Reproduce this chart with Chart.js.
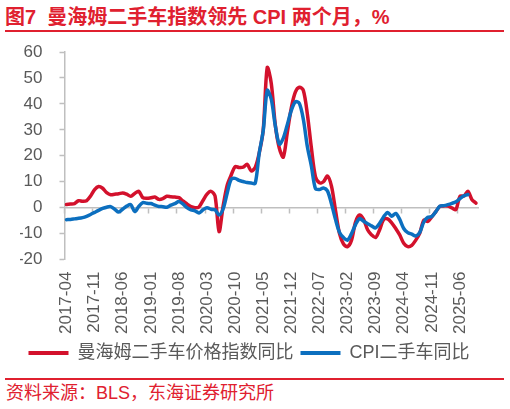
<!DOCTYPE html>
<html>
<head>
<meta charset="utf-8">
<script src="https://cdn.jsdelivr.net/npm/chart.js@4.4.1/dist/chart.umd.min.js"></script>
<style>
  html, body { margin: 0; padding: 0; background: #fff; }
  body { width: 510px; height: 409px; position: relative; overflow: hidden;
         font-family: "Liberation Sans", Arial, "Noto Sans CJK SC", sans-serif; }
  #title { position: absolute; left: 5px; top: 4px; font-size: 20px; font-weight: bold;
           color: #E0202F; white-space: pre; line-height: 26px; }
  #topline { position: absolute; left: 5px; top: 30px; width: 499px; height: 2px; background: #E0202F; }
  #botline { position: absolute; left: 5px; top: 378px; width: 499px; height: 1.5px; background: #E0202F; }
  #source { position: absolute; left: 6px; top: 381px; font-size: 18px; color: #E0202F;
            line-height: 24px; white-space: pre; }
  #wrap { position: absolute; left: 0; top: 0; width: 510px; height: 374px; }
</style>
</head>
<body>
<div id="title">图7  曼海姆二手车指数领先 CPI 两个月，%</div>
<div id="topline"></div>
<div id="wrap"><canvas id="chart" width="510" height="374"></canvas></div>
<div id="botline"></div>
<div id="source">资料来源：BLS，东海证券研究所</div>
<script>
// monthly categories 2017-04 .. 2025-10
const months = [];
for (let y = 2017, m = 4; y < 2025 || (y === 2025 && m <= 10); m++) {
  if (m > 12) { m = 1; y++; }
  months.push(y + '-' + String(m).padStart(2, '0'));
}

// 曼海姆二手车价格指数同比 (shifted two months), %
const manheim = [
  1.2, 1.4, 1.6, 2.7, 2.5, 2.7, 4.5, 7.0, 8.2, 7.5,
  5.8, 5.0, 5.2, 5.4, 5.7, 5.2, 4.4, 5.5, 6.3, 3.9,
  3.6, 3.8, 4.1, 3.2, 3.5, 4.4, 4.2, 4.1, 3.9, 2.6,
  1.5, 0.4, 0.0, 0.3, 2.8, 5.2, 6.3, 4.5, -9.2, 0.5,
  8.5, 12.5, 15.8, 15.5, 15.6, 16.7, 14.2, 15.5, 21, 30,
  54, 48, 32, 23, 19.5, 29, 38.5, 44.5, 46.4, 45.2,
  36, 23, 12, 9.6, 10, 12.2, 8.3, -1, -10, -14,
  -15, -12.5, -5.5, -2.8, -4.5, -8.5, -10.5, -11.5, -8.5, -4.5,
  -4.3, -5.8, -8, -10.5, -13.7, -15, -14.5, -12.5, -9.8, -4.8,
  -5.3, -3.5, -1.5, 0.5, 0.7, 0.6, -0.1, -0.7, 4.4, 4.5,
  6.3, 3.1, 1.8
];

// CPI二手车同比, %
const cpiUsed = [
  -4.6, -4.5, -4.3, -4.1, -3.8, -3.3, -2.6, -1.8, -1.0, -0.3,
  0.2, 0.4, -0.6, -1.7, -0.5, 0.6, 1.2, -1.5, 0.5, 2.0,
  1.7, 1.6, 1.0, 0.5, 0.4, 0.2, 1.0, 1.6, 2.4, 1.5,
  0.0, -0.8, -1.2, -2.0, -0.8, 0.0, -0.6, -0.8, -2.8, -0.5,
  5.5, 10.9, 11.3, 10.5, 10.1, 9.7, 9.5, 9.4, 21, 29.7,
  45.2, 41.8, 31.7, 24.5, 26.8, 32, 37.5, 40.8, 40.2, 34,
  23.5, 16, 7.4, 7.0, 7.6, 6.5, 1.5, -4.5, -9.5, -11.5,
  -12.5, -10, -6.5, -4.2, -5.2, -6.2, -7.0, -7.8, -6.0, -3.5,
  -1.8, -3.3, -2.2, -4.5, -8.0, -9.6, -10.2, -10.9, -9.5, -5.5,
  -3.7, -3.4, -1.5, 0.6, 0.8, 1.2, 1.7, 2.3, 3.5, 4.6,
  5.1
];

const yTicks = [-20, -10, 0, 10, 20, 30, 40, 50, 60];
const labelEvery = 7;

const RED = '#D3112C';
const BLUE = '#0C6FBF';
const AXIS = '#BFBFBF';
const TEXT = '#595959';

Chart.defaults.font.family = '"Liberation Sans", Arial, "Noto Sans CJK SC", sans-serif';
Chart.defaults.color = TEXT;

new Chart(document.getElementById('chart'), {
  type: 'line',
  data: {
    labels: months,
    datasets: [{
      label: '曼海姆二手车价格指数同比',
      data: manheim,
      borderColor: RED,
      backgroundColor: RED,
      borderWidth: 3.5,
      pointRadius: 0,
      tension: 0.3,
      borderJoinStyle: 'round',
      borderCapStyle: 'round',
      order: 1
    }, {
      label: 'CPI二手车同比',
      data: cpiUsed,
      borderColor: BLUE,
      backgroundColor: BLUE,
      borderWidth: 3.5,
      pointRadius: 0,
      tension: 0.3,
      borderJoinStyle: 'round',
      borderCapStyle: 'round',
      order: 0
    }]
  },
  options: {
    responsive: false,
    animation: false,
    layout: { padding: { left: 20, right: 32, top: 52, bottom: 2 } },
    scales: {
      x: {
        type: 'category',
        offset: true,
        border: { display: false },
        grid: { display: false, drawTicks: false },
        afterFit: (s) => { s.height -= 9; },
        ticks: {
          autoSkip: false,
          minRotation: 90,
          maxRotation: 90,
          padding: 12,
          font: { size: 17 },
          color: TEXT,
          callback: function (v, i) { return i % labelEvery === 0 ? this.getLabelForValue(v) : ''; }
        }
      },
      x2: {
        type: 'category',
        axis: 'x',
        position: { y: 0 },
        offset: true,
        border: { display: true, color: AXIS, width: 1.5 },
        grid: {
          offset: true,
          drawOnChartArea: false,
          drawTicks: true,
          tickLength: 5,
          tickWidth: 1.5,
          tickColor: (ctx) => ctx.index % labelEvery === 0 ? AXIS : 'rgba(0,0,0,0)'
        },
        ticks: { display: false, autoSkip: false }
      },
      y: {
        min: -20,
        max: 60,
        afterBuildTicks: (axis) => { axis.ticks = yTicks.map(v => ({ value: v })); },
        afterFit: (s) => { s.width = 44.5; },
        border: { display: true, color: AXIS, width: 1.5 },
        grid: { drawOnChartArea: false, tickLength: 5, tickColor: AXIS, tickWidth: 1.5 },
        ticks: { autoSkip: false, padding: 17, font: { size: 17 }, color: TEXT }
      }
    },
    plugins: {
      tooltip: { enabled: false },
      legend: {
        position: 'bottom',
        labels: {
          boxWidth: 40,
          boxHeight: 4,
          padding: 7,
          font: { size: 18 },
          color: TEXT,
          sort: (a, b) => a.datasetIndex - b.datasetIndex,
          generateLabels: (chart) =>
            Chart.defaults.plugins.legend.labels.generateLabels(chart).map(l => ({ ...l, lineWidth: 0 }))
        }
      }
    }
  }
});
</script>
</body>
</html>
